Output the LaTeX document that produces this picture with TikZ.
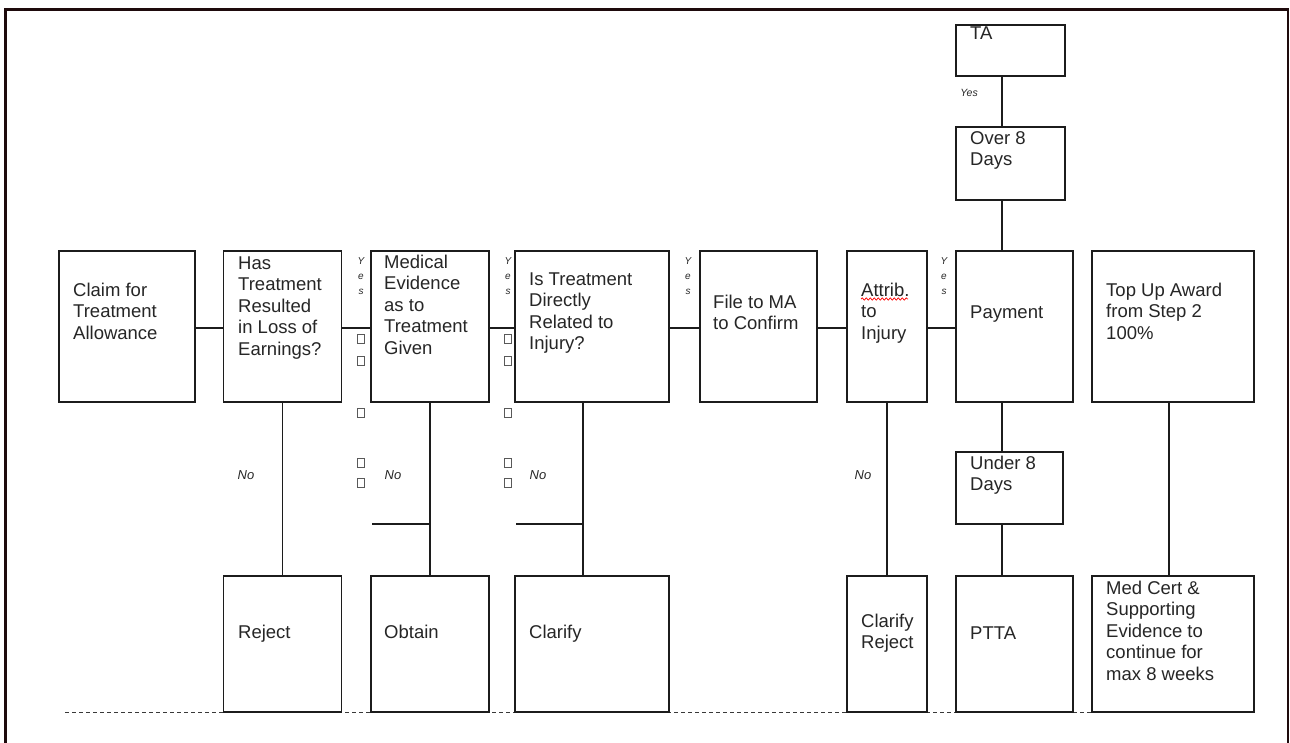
\documentclass[tikz,border=0pt]{standalone}
\usepackage{fontspec}
\setmainfont{Liberation Sans}
\usetikzlibrary{decorations.pathmorphing}
\definecolor{frame}{HTML}{1E0A0C}
\definecolor{ink}{HTML}{1C1C1C}
\definecolor{txtc}{HTML}{262626}
\tikzset{
  blk/.style={draw=ink, fill=white, line width=1.2pt, inner sep=0pt, minimum height=151pt},
  txt/.style={anchor=base west, inner sep=0pt, align=left, text=txtc, font=\fontsize{18.5}{21.4}\selectfont},
  nolbl/.style={inner sep=0pt, text=txtc, font=\fontsize{13}{15}\selectfont\itshape},
  yeslbl/.style={inner sep=0pt, align=center, text=txtc, font=\fontsize{10}{15}\selectfont\itshape},
  tofu/.style={draw=gray!70!black, line width=0.7pt, inner sep=0pt, minimum width=6.5pt, minimum height=9.5pt},
  link/.style={draw=ink, line width=1.2pt},
}
\begin{document}
\begin{tikzpicture}[x=1pt, y=-1pt]
    \useasboundingbox (0,0) rectangle (1290,742);
    \draw[frame, line width=2.6pt] (5.5,745) -- (5.5,9.5) -- (1288,9.5) -- (1288,745);

    \draw[gray!45!black, line width=1.3pt, dash pattern=on 4pt off 3pt] (65,712.5) -- (1092,712.5);

    % middle row
    \node[blk, minimum width=136pt] (claim) at (127,326.5) {};
    \node[blk, minimum width=118pt] (has) at (282.5,326.5) {};
    \node[blk, minimum width=118pt] (medical) at (430,326.5) {};
    \node[blk, minimum width=154pt] (direct) at (592,326.5) {};
    \node[blk, minimum width=117pt] (file) at (758.5,326.5) {};
    \node[blk, minimum width=80pt] (attrib) at (887,326.5) {};
    \node[blk, minimum width=117pt] (payment) at (1014.5,326.5) {};
    \node[blk, minimum width=162pt] (topup) at (1173,326.5) {};

    % payment column
    \node[blk, minimum width=109pt, minimum height=51pt] (ta) at (1010.5,50.5) {};
    \node[blk, minimum width=109pt, minimum height=73pt] (over) at (1010.5,163.5) {};
    \node[blk, minimum width=107pt, minimum height=72pt] (under) at (1009.5,488) {};

    % bottom row
    \node[blk, minimum width=118pt, minimum height=136pt] (reject) at (282.5,644) {};
    \node[blk, minimum width=118pt, minimum height=136pt] (obtain) at (430,644) {};
    \node[blk, minimum width=154pt, minimum height=136pt] (clarify) at (592,644) {};
    \node[blk, minimum width=80pt, minimum height=136pt] (clarifyrej) at (887,644) {};
    \node[blk, minimum width=117pt, minimum height=136pt] (ptta) at (1014.5,644) {};
    \node[blk, minimum width=162pt, minimum height=136pt] (medcert) at (1173,644) {};

    % texts (base = last line)
    \node[txt] (claimT) at (73,339.3) {Claim for\\Treatment\\Allowance};
    \node[txt] (hasT) at (238,355.1) {Has\\Treatment\\Resulted\\in Loss of\\Earnings?};
    \node[txt] (medicalT) at (384,354.1) {Medical\\Evidence\\as to\\Treatment\\Given};
    \node[txt] (directT) at (529,349.7) {Is Treatment\\Directly\\Related to\\Injury?};
    \node[txt] (fileT) at (713,329.9) {File to MA\\to Confirm};
    \node[txt] (attribT) at (861,339.3) {Attrib.\\to\\Injury};
    \node[txt] (paymentT) at (970,318.5) {Payment};
    \node[txt] (topupT) at (1106,339.3) {Top Up Award\\from Step 2\\100\%};
    \node[txt] (taT) at (970,39.5) {TA};
    \node[txt] (overT) at (970,165.9) {Over 8\\Days};
    \node[txt] (underT) at (970,490.9) {Under 8\\Days};
    \node[txt] (rejectT) at (238,638.5) {Reject};
    \node[txt] (obtainT) at (384,638.5) {Obtain};
    \node[txt] (clarifyT) at (529,638.5) {Clarify};
    \node[txt] (clarifyrejT) at (861,648.9) {Clarify\\Reject};
    \node[txt] (pttaT) at (970,639.5) {PTTA};
    \node[txt] (medcertT) at (1106,680.1) {Med Cert \&\\Supporting\\Evidence to\\continue for\\max 8 weeks};
    \draw[red, line width=0.7pt, decorate, decoration={snake, amplitude=1.1pt, segment length=4pt}]
        (861,299) -- (908,299);

    % connectors
    \coordinate (midy) at (0,328);
    \coordinate (payx) at (1002,0);
    \coordinate (dirx) at (583,0);
    \coordinate (topx) at (1169,0);
    \draw[link] (claim.east |- midy) -- (has.west |- midy);
    \draw[link] (has.east |- midy) -- (medical.west |- midy);
    \draw[link] (medical.east |- midy) -- (direct.west |- midy);
    \draw[link] (direct.east |- midy) -- (file.west |- midy);
    \draw[link] (file.east |- midy) -- (attrib.west |- midy);
    \draw[link] (attrib.east |- midy) -- (payment.west |- midy);
    \draw[link] (ta.south -| payx) -- (over.north -| payx);
    \draw[link] (over.south -| payx) -- (payment.north -| payx);
    \draw[link] (payment.south -| payx) -- (under.north -| payx);
    \draw[link] (under.south -| payx) -- (ptta.north -| payx);
    \draw[link] (has) -- (reject);
    \draw[link] (medical) -- (obtain);
    \draw[link] (direct.south -| dirx) -- (clarify.north -| dirx);
    \draw[link] (attrib) -- (clarifyrej);
    \draw[link] (topup.south -| topx) -- (medcert.north -| topx);
    \draw[link] (372,524) -- (obtain.north |- 0,524);
    \draw[link] (516,524) -- (dirx |- 0,524);

    % labels
    \node[yeslbl] (yes1) at (361,276) {Y\\e\\s};
    \node[yeslbl] (yes2) at (508,276) {Y\\e\\s};
    \node[yeslbl] (yes3) at (688,276) {Y\\e\\s};
    \node[yeslbl] (yes4) at (944,276) {Y\\e\\s};
    \node[inner sep=0pt, text=txtc, font=\fontsize{10.5}{12}\selectfont\itshape] (yes5) at (969,93) {Yes};
    \node[nolbl] (no1) at (246,475) {No};
    \node[nolbl] (no2) at (393,475) {No};
    \node[nolbl] (no3) at (538,475) {No};
    \node[nolbl] (no4) at (863,475) {No};
    \foreach \x in {361,508}
      \foreach \y in {339,361,413,463,483}
        \node[tofu] (tofu\x-\y) at (\x,\y) {};
\end{tikzpicture}
\end{document}
